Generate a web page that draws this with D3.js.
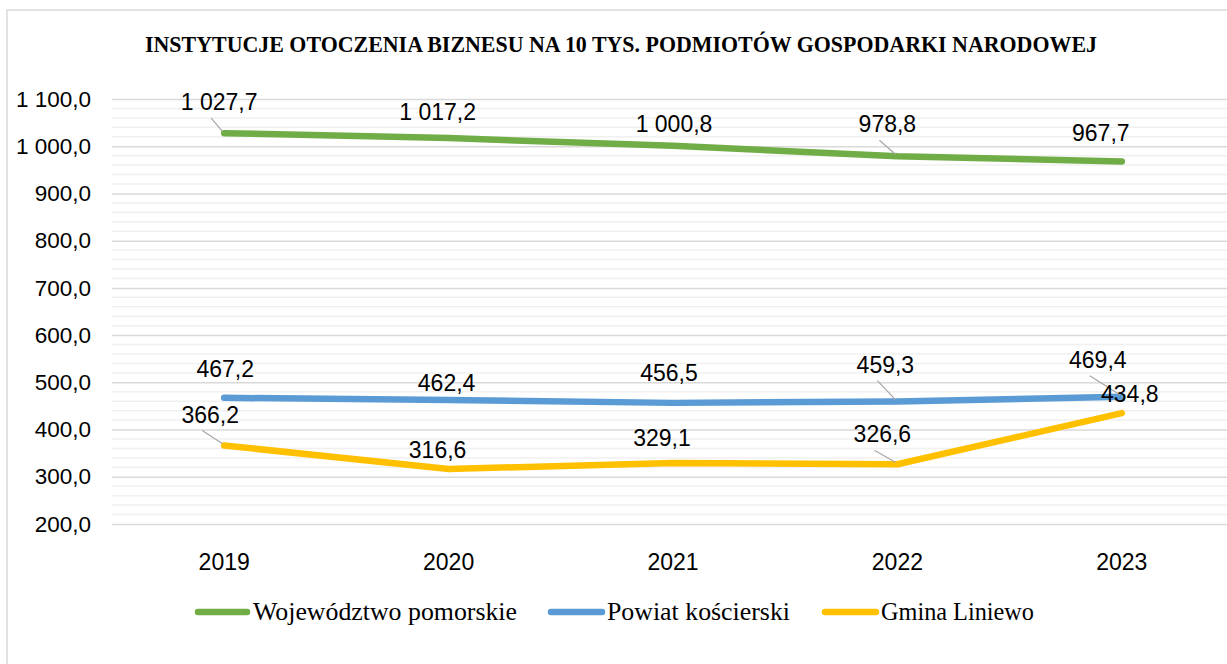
<!DOCTYPE html>
<html>
<head>
<meta charset="utf-8">
<script src="https://cdn.jsdelivr.net/npm/d3@7"></script>
<style>
  html, body { margin: 0; padding: 0; background: #fff; overflow: hidden; }
</style>
</head>
<body>
<div id="chart"></div>
<script>
/**
 * DATA
 * */
const years = ["2019", "2020", "2021", "2022", "2023"];
const wojewodztwo = [1027.7, 1017.2, 1000.8, 978.8, 967.7];
const powiat = [467.2, 462.4, 456.5, 459.3, 469.4];
const gmina = [366.2, 316.6, 329.1, 326.6, 434.8];
const seriesNames = ["Województwo pomorskie", "Powiat kościerski", "Gmina Liniewo"];
const seriesColors = ["#70ad47", "#5b9bd5", "#ffc000"];
const yMajorTicks = [200, 300, 400, 500, 600, 700, 800, 900, 1000, 1100];
const chartTitle = "INSTYTUCJE OTOCZENIA BIZNESU NA 10 TYS. PODMIOTÓW GOSPODARKI NARODOWEJ";

// label placement (dx, dy of baseline from point, leader line yes/no)
const labelPlacement = [
  [[-5, -23, true], [-11, -18, false], [1, -14, false], [-10, -24, true], [-21, -20, false]],
  [[1, -21, false], [-2, -9, false], [-4, -22, false], [-12, -29, true], [-24, -29, true]],
  [[-14, -23, true], [-11, -11, false], [-11, -17, false], [-15, -22, true], [8, -11, false]]
];

/**
 * CONSTANTS
 * */
const width = 1227, height = 664;
const sans = "'Liberation Sans', Arial, sans-serif";
const serif = "'Liberation Serif', 'Times New Roman', serif";

const svg = d3.select("#chart").append("svg")
  .attr("width", width)
  .attr("height", height);

// chart border
svg.append("rect")
  .attr("x", 7).attr("y", 10)
  .attr("width", 1240).attr("height", 700)
  .attr("fill", "#fff")
  .attr("stroke", "#d9d9d9")
  .attr("stroke-width", 1.5);

const x = d3.scaleBand().domain(years).range([112, 1234]).padding(0);
const y = d3.scaleLinear().domain([200, 1100]).range([524, 99]);
const cx = d => x(d) + x.bandwidth() / 2;

const pl = d3.formatLocale({ decimal: ",", thousands: " ", grouping: [3], currency: ["", ""] });
const fmt = pl.format(",.1f");

// minor grid
const minorTicks = d3.range(200, 1100, 20).filter(v => v % 100 !== 0);
svg.append("g")
  .selectAll("line")
  .data(minorTicks)
  .join("line")
  .attr("x1", 112).attr("x2", width)
  .attr("y1", d => y(d)).attr("y2", d => y(d))
  .attr("stroke", "#f0f0f0")
  .attr("stroke-width", 1.5);

// major grid + y labels
svg.append("g")
  .attr("transform", "translate(112,0)")
  .call(d3.axisLeft(y).tickValues(yMajorTicks).tickSize(-(width - 112)).tickPadding(21).tickFormat(fmt))
  .call(g => g.select(".domain").remove())
  .call(g => g.selectAll(".tick line").attr("stroke", "#d9d9d9").attr("stroke-width", 1.5))
  .call(g => g.selectAll(".tick text")
    .style("font-size", "22.5px")
    .style("font-family", sans)
    .attr("fill", "#000"));

// x labels
svg.append("g")
  .attr("transform", "translate(0,524)")
  .call(d3.axisBottom(x).tickSize(0).tickPadding(30))
  .call(g => g.select(".domain").remove())
  .call(g => g.selectAll(".tick text")
    .style("font-size", "23px")
    .style("font-family", sans)
    .attr("fill", "#000"));

// title
svg.append("text")
  .attr("x", 621).attr("y", 52)
  .attr("text-anchor", "middle")
  .style("font-family", serif)
  .style("font-weight", "bold")
  .style("font-size", "23px")
  .attr("textLength", 952)
  .attr("lengthAdjust", "spacingAndGlyphs")
  .text(chartTitle);

// lines
const allSeries = [wojewodztwo, powiat, gmina];
const line = d3.line().x((d, i) => cx(years[i])).y(d => y(d));

svg.append("g")
  .selectAll("path")
  .data(allSeries)
  .join("path")
  .attr("d", d => line(d))
  .attr("fill", "none")
  .attr("stroke", (d, i) => seriesColors[i])
  .attr("stroke-width", 6.5)
  .attr("stroke-linecap", "round")
  .attr("stroke-linejoin", "round");

// data labels
const labels = [];
allSeries.forEach((s, si) => s.forEach((v, i) => {
  const p = labelPlacement[si][i];
  labels.push({ px: cx(years[i]), py: y(v), v, dx: p[0], dy: p[1], leader: p[2] });
}));

const lg = svg.append("g");
lg.selectAll("line")
  .data(labels.filter(d => d.leader))
  .join("line")
  .attr("x1", d => d.px + d.dx - 8)
  .attr("y1", d => d.py + d.dy + 8)
  .attr("x2", d => d.px - 2)
  .attr("y2", d => d.py - 2)
  .attr("stroke", "#a6a6a6")
  .attr("stroke-width", 1.2);

lg.selectAll("text")
  .data(labels)
  .join("text")
  .attr("x", d => d.px + d.dx)
  .attr("y", d => d.py + d.dy)
  .attr("text-anchor", "middle")
  .style("font-family", sans)
  .style("font-size", "23px")
  .attr("fill", "#000")
  .text(d => fmt(d.v));

// legend
const legendItems = [
  { x1: 198, x2: 247, tx: 253, tw: 264 },
  { x1: 551, x2: 602, tx: 607, tw: 183 },
  { x1: 825, x2: 876, tx: 881, tw: 153 }
];
const leg = svg.append("g");
leg.selectAll("line")
  .data(legendItems)
  .join("line")
  .attr("x1", d => d.x1).attr("x2", d => d.x2)
  .attr("y1", 612).attr("y2", 612)
  .attr("stroke", (d, i) => seriesColors[i])
  .attr("stroke-width", 6.5)
  .attr("stroke-linecap", "round");
leg.selectAll("text")
  .data(legendItems)
  .join("text")
  .attr("x", d => d.tx).attr("y", 620)
  .style("font-family", serif)
  .style("font-size", "26px")
  .attr("fill", "#000")
  .attr("textLength", d => d.tw)
  .attr("lengthAdjust", "spacingAndGlyphs")
  .text((d, i) => seriesNames[i]);
</script>
</body>
</html>
